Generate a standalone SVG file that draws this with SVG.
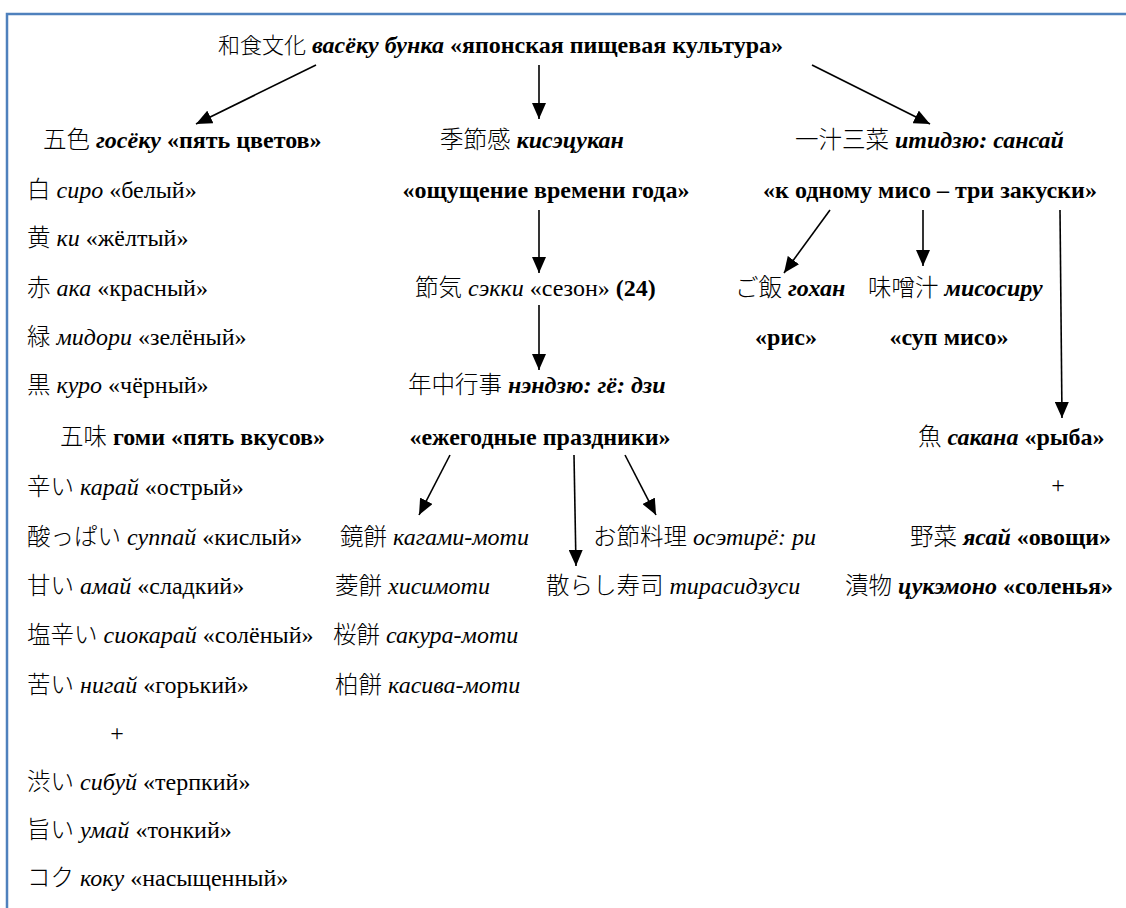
<svg xmlns="http://www.w3.org/2000/svg" width="1126" height="908" viewBox="0 0 1126 908">
<defs>
<marker id="ah" markerUnits="userSpaceOnUse" markerWidth="16" markerHeight="14" refX="16" refY="7" orient="auto">
<path d="M0,0 L16,7 L0,14 z" fill="#000"/>
</marker>
<style>
.t{font-family:'Liberation Serif','Noto Sans CJK JP',serif;font-size:24px;fill:#000}
.b{font-weight:bold}
.i{font-style:italic}
.c{font-family:'Noto Sans CJK JP','Liberation Serif',sans-serif;font-weight:300;font-size:23.5px}
.ln{stroke:#000;stroke-width:1.6;fill:none;marker-end:url(#ah)}
.frame{stroke:#4f81bd;stroke-width:2.5;fill:none}
</style>
</defs>
<rect width="1126" height="908" fill="#fff"/>
<path class="frame" d="M7,908 V14 H1126"/>

<g id="connectors">
<line class="ln" x1="316" y1="65" x2="196" y2="124"/>
<line class="ln" x1="539" y1="65" x2="539" y2="119"/>
<line class="ln" x1="812" y1="65" x2="930" y2="124"/>
<line class="ln" x1="539" y1="210" x2="539" y2="273"/>
<line class="ln" x1="539" y1="305" x2="539" y2="370"/>
<line class="ln" x1="830" y1="210" x2="784" y2="273"/>
<line class="ln" x1="923" y1="210" x2="923" y2="266"/>
<line class="ln" x1="1060" y1="210" x2="1062" y2="418"/>
<line class="ln" x1="450" y1="455" x2="419" y2="515"/>
<line class="ln" x1="574" y1="455" x2="576" y2="566"/>
<line class="ln" x1="625" y1="455" x2="656" y2="515"/>
</g>

<g id="root"><text class="t" x="218" y="53"><tspan class="c" style="font-size:22px">和食文化</tspan> <tspan class="b i">васёку бунка</tspan> <tspan class="b">«японская пищевая культура»</tspan></text></g>

<g id="goseku"><text class="t" x="43" y="148"><tspan class="c">五色</tspan> <tspan class="b i">госёку</tspan> <tspan class="b">«пять цветов»</tspan></text></g>
<g id="shiro"><text class="t" x="27" y="198"><tspan class="c">白</tspan> <tspan class="i">сиро</tspan> «белый»</text></g>
<g id="ki"><text class="t" x="27" y="246"><tspan class="c">黄</tspan> <tspan class="i">ки</tspan> «жёлтый»</text></g>
<g id="aka"><text class="t" x="27" y="296"><tspan class="c">赤</tspan> <tspan class="i">ака</tspan> «красный»</text></g>
<g id="midori"><text class="t" x="27" y="345"><tspan class="c">緑</tspan> <tspan class="i">мидори</tspan> «зелёный»</text></g>
<g id="kuro"><text class="t" x="27" y="393"><tspan class="c">黒</tspan> <tspan class="i">куро</tspan> «чёрный»</text></g>
<g id="gomi"><text class="t" x="60" y="445"><tspan class="c">五味</tspan> <tspan class="b">гоми «пять вкусов»</tspan></text></g>
<g id="karai"><text class="t" x="27" y="495"><tspan class="c">辛い</tspan> <tspan class="i">карай</tspan> «острый»</text></g>
<g id="suppai"><text class="t" x="27" y="545"><tspan class="c">酸っぱい</tspan> <tspan class="i">суппай</tspan> «кислый»</text></g>
<g id="amai"><text class="t" x="27" y="594"><tspan class="c">甘い</tspan> <tspan class="i">амай</tspan> «сладкий»</text></g>
<g id="shiokarai"><text class="t" x="27" y="643"><tspan class="c">塩辛い</tspan> <tspan class="i">сиокарай</tspan> «солёный»</text></g>
<g id="nigai"><text class="t" x="27" y="693"><tspan class="c">苦い</tspan> <tspan class="i">нигай</tspan> «горький»</text></g>
<g id="plus1"><text class="t" x="117" y="741" text-anchor="middle">+</text></g>
<g id="shibui"><text class="t" x="27" y="790"><tspan class="c">渋い</tspan> <tspan class="i">сибуй</tspan> «терпкий»</text></g>
<g id="umai"><text class="t" x="27" y="838"><tspan class="c">旨い</tspan> <tspan class="i">умай</tspan> «тонкий»</text></g>
<g id="koku"><text class="t" x="27" y="886"><tspan class="c">コク</tspan> <tspan class="i">коку</tspan> «насыщенный»</text></g>

<g id="kisetsukan"><text class="t" x="440" y="148"><tspan class="c">季節感</tspan> <tspan class="b i">кисэцукан</tspan></text>
<text class="t b" x="546" y="198" text-anchor="middle">«ощущение времени года»</text></g>
<g id="sekki"><text class="t" x="415" y="296"><tspan class="c">節気</tspan> <tspan class="i">сэкки</tspan> «сезон» <tspan class="b">(24)</tspan></text></g>
<g id="nenju"><text class="t" x="408" y="393"><tspan class="c">年中行事</tspan> <tspan class="b i">нэндзю: гё: дзи</tspan></text>
<text class="t b" x="540" y="445" text-anchor="middle">«ежегодные праздники»</text></g>
<g id="kagami"><text class="t" x="340" y="545"><tspan class="c">鏡餅</tspan> <tspan class="i">кагами-моти</tspan></text></g>
<g id="hishi"><text class="t" x="335" y="594"><tspan class="c">菱餅</tspan> <tspan class="i">хисимоти</tspan></text></g>
<g id="sakura"><text class="t" x="333" y="643"><tspan class="c">桜餅</tspan> <tspan class="i">сакура-моти</tspan></text></g>
<g id="kashiwa"><text class="t" x="335" y="693"><tspan class="c">柏餅</tspan> <tspan class="i">касива-моти</tspan></text></g>
<g id="chirashi"><text class="t" x="546" y="594"><tspan class="c">散らし寿司</tspan> <tspan class="i">тирасидзуси</tspan></text></g>
<g id="osechi"><text class="t" x="593" y="545"><tspan class="c">お節料理</tspan> <tspan class="i">осэтирё: ри</tspan></text></g>

<g id="ichiju"><text class="t" x="795" y="148"><tspan class="c">一汁三菜</tspan> <tspan class="b i">итидзю: сансай</tspan></text>
<text class="t b" x="930" y="198" text-anchor="middle">«к одному мисо – три закуски»</text></g>
<g id="gohan"><text class="t" x="735" y="296"><tspan class="c">ご飯</tspan> <tspan class="b i">гохан</tspan></text>
<text class="t b" x="786" y="345" text-anchor="middle">«рис»</text></g>
<g id="misoshiru"><text class="t" x="868" y="296"><tspan class="c">味噌汁</tspan> <tspan class="b i">мисосиру</tspan></text>
<text class="t b" x="949" y="345" text-anchor="middle">«суп мисо»</text></g>
<g id="sakana"><text class="t" x="918" y="445"><tspan class="c">魚</tspan> <tspan class="b i">сакана</tspan> <tspan class="b">«рыба»</tspan></text></g>
<g id="plus2"><text class="t" x="1058" y="493" text-anchor="middle">+</text></g>
<g id="yasai"><text class="t" x="910" y="545"><tspan class="c">野菜</tspan> <tspan class="b i">ясай</tspan> <tspan class="b">«овощи»</tspan></text></g>
<g id="tsukemono"><text class="t" x="845" y="594"><tspan class="c">漬物</tspan> <tspan class="b i">цукэмоно</tspan> <tspan class="b">«соленья»</tspan></text></g>
</svg>
